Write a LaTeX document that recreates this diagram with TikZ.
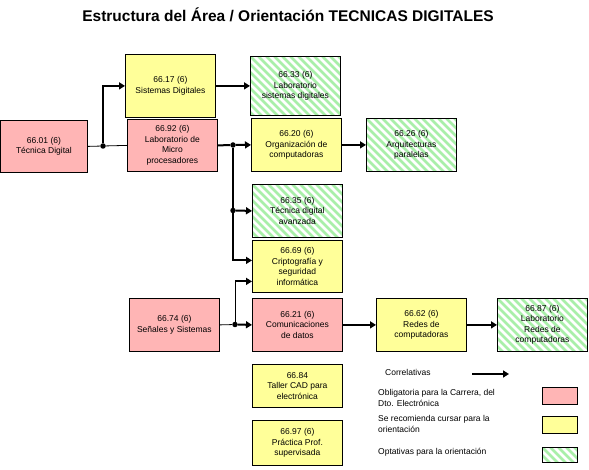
\documentclass[tikz,border=0pt]{standalone}
\usepackage{fontspec}
\setmainfont{Liberation Sans}
\usetikzlibrary{arrows.meta,positioning}
\definecolor{palobl}{HTML}{FFB5B5}
\definecolor{palrec}{HTML}{FFFF99}
\definecolor{palopt}{HTML}{A9EFA9}
\colorlet{cobl}{palobl}
\colorlet{crec}{palrec}
\colorlet{copt}{palopt}
\newcommand{\boxfont}{\fontsize{8.5}{10.5}\selectfont}
\tikzset{
  course/.style={draw, line width=0.8pt, anchor=north west, align=center,
    minimum width=90pt, minimum height=53pt, inner sep=1pt, font=\boxfont},
  hatch/.style={fill=white, path picture={
      \foreach \k in {-9,...,13}
        \draw[copt, line width=2.6pt]
          ([xshift=\k*8pt]path picture bounding box.north west) -- ++(75pt,-75pt);
    }},
  oblig/.style={course, fill=cobl},
  recom/.style={course, fill=crec},
  optat/.style={course, hatch},
  swatch/.style={draw, line width=0.8pt, anchor=north west,
    minimum width=35pt, minimum height=17pt, inner sep=0pt},
  legtext/.style={anchor=west, align=left, inner sep=0pt, font=\boxfont},
  corr/.style={line width=2pt, -{Triangle[length=6pt,width=7pt]}},
  link/.style={line width=0.8pt},
  junction/.style={circle, fill, inner sep=0pt, minimum size=5.5pt},
}
\begin{document}
\begin{tikzpicture}[x=1pt,y=-1pt]
  \useasboundingbox (0,0) rectangle (589,470);
  \node (title) at (288,15) {\fontsize{15.5}{18}\selectfont\bfseries Estructura del Área / Orientación TECNICAS DIGITALES};

  \path
  (0,120)   node[oblig, minimum width=87pt, minimum height=52pt] (c6601) {66.01 (6)\\Técnica Digital}
  (125,54)  node[recom, minimum height=63pt] (c6617) {66.17 (6)\\Sistemas Digitales}
  (250,56)  node[optat, minimum height=59pt] (c6633) {66.33 (6)\\Laboratorio\\sistemas digitales}
  (127,119) node[oblig, minimum height=52pt] (c6692) {66.92 (6)\\Laboratorio de\\Micro\\procesadores}
  (251,118) node[recom] (c6620) {66.20 (6)\\Organización de\\computadoras}
  (366,118) node[optat] (c6626) {66.26 (6)\\Arquitecturas\\paralelas}
  (252,184) node[optat] (c6635) {66.35 (6)\\Técnica digital\\avanzada}
  (252,240) node[recom, minimum height=52pt] (c6669) {66.69 (6)\\Criptografía y\\seguridad\\informática}
  (129,298) node[oblig] (c6674) {66.74 (6)\\Señales y Sistemas}
  (252,298) node[oblig] (c6621) {66.21 (6)\\Comunicaciones\\de datos}
  (376,298) node[recom] (c6662) {66.62 (6)\\Redes de\\computadoras}
  (497,298) node[optat] (c6687) {66.87 (6)\\Laboratorio\\Redes de\\computadoras}
  (252,364) node[recom, minimum height=43pt] (c6684) {66.84\\Taller CAD para\\electrónica}
  (252,420) node[recom, minimum height=45pt] (c6697) {66.97 (6)\\Práctica Prof.\\supervisada}
  ;

  \node[junction] (j1) at (103,146) {};
  \node[junction] (j2) at (233,145) {};
  \node[junction] (j3) at (233,210.5) {};
  \node[junction] (j4) at (235,324.5) {};
  \coordinate (in1) at ([yshift=6pt]c6669.west);
  \coordinate (in2) at ([yshift=-15pt]c6669.west);

  \draw[link] (c6601.east) -- (j1) -- (c6692.west);
  \draw[corr] (j1) |- (c6617.west);
  \draw[corr] (c6617.east) -- (c6633.west);
  \draw[line width=2pt] (c6692.east) -- (j2);
  \draw[corr] (j2) -- (c6620.west);
  \draw[corr] (c6620.east) -- (c6626.west);
  \draw[corr] (j2) |- (in1);
  \draw[corr] (j3) -- (c6635.west);
  \draw[link] (c6674.east) -- (j4);
  \draw[corr] (j4) -- (c6621.west);
  \draw[link] (j4) -- (j4 |- in2);
  \draw[corr] (j4 |- in2) -- (in2);
  \draw[corr] (c6621.east) -- (c6662.west);
  \draw[corr] (c6662.east) -- (c6687.west);

  \node[legtext] (lcorr) at (385,372) {Correlativas};
  \coordinate (la) at (472,374);
  \coordinate (lb) at (509,374);
  \draw[corr] (la) -- (lb);
  \node[legtext] (lobl) at (378,398) {Obligatoria para la Carrera, del\\Dto. Electrónica};
  \node[legtext] (lrec) at (378,424) {Se recomienda cursar para la\\orientación};
  \node[legtext] (lopt) at (378,452) {Optativas para la orientación};
  \node[swatch, fill=cobl] (sobl) at (542,387) {};
  \node[swatch, fill=crec] (srec) at (542,416) {};
  \node[swatch, hatch, minimum height=15pt] (sopt) at (542,447) {};
\end{tikzpicture}
\end{document}
